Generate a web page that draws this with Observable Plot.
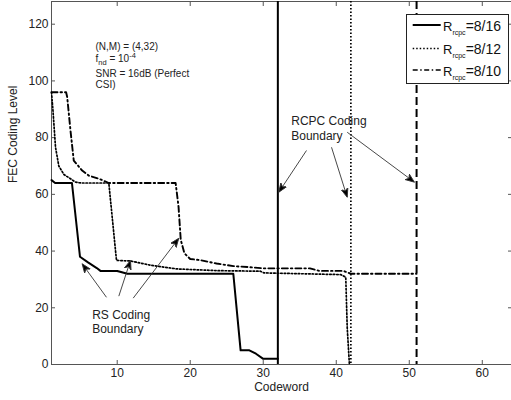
<!DOCTYPE html>
<html>
<head>
<meta charset="utf-8">
<script src="https://cdn.jsdelivr.net/npm/d3@7"></script>
<script src="https://cdn.jsdelivr.net/npm/@observablehq/plot@0.6"></script>
<style>
  html, body { margin: 0; padding: 0; background: white; }
  #wrap { position: relative; width: 511px; height: 400px; font-family: "Liberation Sans", Arial, sans-serif; }
  #legend { position: absolute; left: 406px; top: 14px; width: 103px; height: 70px; box-sizing: border-box; border: 1px solid #222; background: white; }
</style>
</head>
<body>
<div id="wrap"></div>
<script>
// ---- data ----
const xTicks = [10, 20, 30, 40, 50, 60];
const yTicks = [0, 20, 40, 60, 80, 100, 120];

// R_rcpc = 8/16 (solid)
const s816x = [1, 1.5, 3.8, 4.9, 6, 7.2, 7.7, 10, 11.4, 25.9, 26.9, 28.1, 29, 30, 32];
const s816y = [65, 64, 64, 38, 36, 34, 33, 33, 32, 32, 5, 5, 3.8, 2, 2];

// R_rcpc = 8/12 (dotted)
const s812x = [1, 1.2, 1.55, 2, 2.7, 3.6, 4.3, 5, 8.85, 9.9, 11.8, 14.6, 18.2, 23.7, 29.6, 30.1, 40.6, 41.3, 41.5, 41.8];
const s812y = [96, 89.6, 76.6, 70, 67, 65.5, 64.3, 64, 64, 36.7, 36.5, 35, 33.7, 33.1, 32.9, 32.3, 31.7, 30.8, 13, 0];

// R_rcpc = 8/10 (dash-dot)
const s810x = [1, 3, 3.15, 3.6, 4.05, 5.2, 6.1, 7.5, 8.85, 18, 18.4, 18.7, 19.2, 20, 21.4, 23.6, 25.9, 28.2, 30, 36.4, 37.7, 41, 42, 51];
const s810y = [96, 96, 94.3, 82.5, 71.9, 68.4, 66.6, 65.5, 64, 64, 55.6, 44, 39.2, 37.2, 36.8, 35.6, 34.7, 34.3, 33.9, 33.9, 33, 33, 32, 32];

// RCPC coding boundaries (vertical lines)
const boundSolid = [32];
const boundDotted = [42];
const boundDashed = [51];

const legendLabels = ["=8/16", "=8/12", "=8/10"];

// annotations
const infoLines = ["(N,M) = (4,32)", "f_nd = 10^-4", "SNR = 16dB (Perfect", "CSI)"];
const infoX = [7.03, 7.03, 7.03, 7.03];
const infoY = [112.2, 107.9, 102.6, 98.7];

const noteText = ["RCPC Coding\nBoundary", "RS Coding\nBoundary"];
const noteX = [33.83, 6.57];
const noteY = [83.5, 15.15];

const arrX1 = [35.92, 39.35, 41.5, 8.53, 10.22, 12.19];
const arrY1 = [75.46, 76.6, 81.9, 23.7, 24.1, 23.4];
const arrX2 = [32.13, 41.5, 50.7, 5.2, 11.82, 18.43];
const arrY2 = [60.75, 59.0, 64.3, 35.5, 36.7, 44.5];

// ---- build tables ----
const toPts = (xs, ys) => xs.map((x, i) => ({x, y: ys[i]}));
const d816 = toPts(s816x, s816y);
const d812 = toPts(s812x, s812y);
const d810 = toPts(s810x, s810y);
const info = infoLines.map((t, i) => ({t, x: infoX[i], y: infoY[i]}));
const notes = noteText.map((t, i) => ({t, x: noteX[i], y: noteY[i]}));
const arrows = arrX1.map((x1, i) => ({x1, y1: arrY1[i], x2: arrX2[i], y2: arrY2[i]}));

const ns = "http://www.w3.org/2000/svg";
function filledHead(color, context) {
  const m = document.createElementNS(ns, "marker");
  m.setAttribute("viewBox", "-9 -4 10 8");
  m.setAttribute("refX", "0");
  m.setAttribute("refY", "0");
  m.setAttribute("markerWidth", "10");
  m.setAttribute("markerHeight", "8");
  m.setAttribute("markerUnits", "userSpaceOnUse");
  m.setAttribute("orient", "auto");
  const p = document.createElementNS(ns, "path");
  p.setAttribute("d", "M0,0L-9,-3.5L-6.5,0L-9,3.5Z");
  p.setAttribute("fill", "black");
  m.appendChild(p);
  return m;
}

function build(marker) {
  return Plot.plot({
    width: 511, height: 400,
    marginLeft: 51, marginRight: 0, marginTop: 1, marginBottom: 36,
    x: {domain: [1, 64]},
    y: {domain: [0, 128]},
    style: {fontFamily: "'Liberation Sans', Arial, sans-serif", background: "white", overflow: "visible"},
    marks: [
      Plot.frame({stroke: "#555"}),
      Plot.axisX(xTicks, {anchor: "bottom", tickSize: -4, tickPadding: 8, fontSize: 12, stroke: "#555", fill: "#222", label: null}),
      Plot.axisX(xTicks, {anchor: "top", tickSize: -4, tickFormat: () => "", stroke: "#555", label: null}),
      Plot.axisY(yTicks, {anchor: "left", tickSize: -4, tickPadding: 7, fontSize: 12, stroke: "#555", fill: "#222", label: null}),
      Plot.axisY(yTicks, {anchor: "right", tickSize: -4, tickFormat: () => "", stroke: "#555", label: null}),
      Plot.text(["FEC Coding Level"], {frameAnchor: "left", dx: -38, rotate: -90, fontSize: 12, fill: "#222"}),
      Plot.text(["Codeword"], {frameAnchor: "bottom", dy: 26, fontSize: 12, fill: "#222"}),
      // boundaries
      Plot.ruleX(boundSolid, {x: d => d, stroke: "black", strokeWidth: 2}),
      Plot.ruleX(boundDotted, {x: d => d, stroke: "black", strokeWidth: 1.7, strokeDasharray: "1.5,2"}),
      Plot.ruleX(boundDashed, {x: d => d, stroke: "black", strokeWidth: 2, strokeDasharray: "8,4"}),
      // curves
      Plot.line(d816, {x: "x", y: "y", stroke: "black", strokeWidth: 2}),
      Plot.line(d812, {x: "x", y: "y", stroke: "black", strokeWidth: 1.7, strokeDasharray: "1.5,2"}),
      Plot.line(d810, {x: "x", y: "y", stroke: "black", strokeWidth: 1.9, strokeDasharray: "6,3,1.5,3"}),
      // annotations
      Plot.text(info, {x: "x", y: "y", text: "t", textAnchor: "start", lineAnchor: "middle", fontSize: 10, fill: "#222"}),
      Plot.text(notes.slice(0, 1), {x: "x", y: "y", text: "t", textAnchor: "start", lineAnchor: "middle", lineHeight: 1.3, fontSize: 12, fill: "#222"}),
      Plot.text(notes.slice(1), {x: "x", y: "y", text: "t", textAnchor: "start", lineAnchor: "middle", lineHeight: 1.17, fontSize: 12, fill: "#222"}),
      Plot.link(arrows, {x1: "x1", y1: "y1", x2: "x2", y2: "y2", stroke: "#333", strokeWidth: 0.9, markerEnd: marker})
    ]
  });
}

let chart;
try { chart = build(filledHead); } catch (e) { chart = build("arrow"); }

// rich text for subscript / superscript
chart.querySelectorAll("text").forEach(t => {
  if (t.textContent === "f_nd = 10^-4") {
    t.innerHTML = 'f<tspan dy="3" font-size="7.5">nd</tspan><tspan dy="-3"> = 10</tspan><tspan dy="-4" font-size="7.5">-4</tspan>';
  }
});

const wrap = document.getElementById("wrap");
wrap.appendChild(chart);

// legend (inside the axes, upper right)
const styles = [
  {w: 2, dash: null},
  {w: 1.5, dash: "1.5,2"},
  {w: 1.6, dash: "5,2.5,1.5,2.5"}
];
const leg = document.createElement("div");
leg.id = "legend";
const lsvg = d3.create("svg").attr("width", 101).attr("height", 68)
  .style("font-family", "'Liberation Sans', Arial, sans-serif");
const rowY = [10, 33.5, 55];
legendLabels.forEach((lab, i) => {
  const g = lsvg.append("g").attr("transform", `translate(0,${rowY[i]})`);
  g.append("line").attr("x1", 5.7).attr("x2", 33.7).attr("y1", 0).attr("y2", 0)
    .attr("stroke", "black").attr("stroke-width", styles[i].w)
    .attr("stroke-dasharray", styles[i].dash);
  const t = g.append("text").attr("x", 36).attr("y", 0).attr("dy", "0.36em").attr("fill", "#111");
  t.append("tspan").attr("font-size", 13).text("R");
  t.append("tspan").attr("font-size", 7).attr("dy", 4).text("rcpc");
  t.append("tspan").attr("font-size", 14).attr("dy", -4).text(lab);
});
leg.appendChild(lsvg.node());
wrap.appendChild(leg);
</script>
</body>
</html>
